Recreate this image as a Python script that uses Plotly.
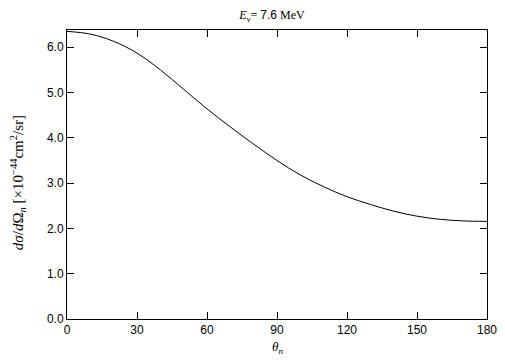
import plotly.graph_objects as go

theta = [0, 10, 20, 30, 40, 50, 60, 70, 80, 90, 100, 110, 120, 130, 140, 150, 160, 170, 180]
dsigma = [6.35, 6.29, 6.13, 5.87, 5.50, 5.07, 4.64, 4.24, 3.86, 3.50, 3.18, 2.92, 2.70, 2.53, 2.38, 2.27, 2.20, 2.165, 2.155]
x_ticks = [0, 30, 60, 90, 120, 150, 180]
y_ticks = [0, 1, 2, 3, 4, 5, 6]

fig = go.Figure()
fig.add_trace(go.Scatter(x=theta, y=dsigma, mode="lines", line=dict(color="black", width=1, shape="spline"),
                         showlegend=False, hoverinfo="skip"))

serif = "Liberation Serif, Times New Roman, serif"
sans = "Liberation Sans, Arial, Helvetica, sans-serif"

# page body has an 8px default margin; figure sized to fit the 505x361 window
W, H = 497, 353
L, R, T, B = 59, 18, 22, 42
PW, PH = W - L - R, H - T - B

fig.update_layout(
    width=W, height=H,
    margin=dict(l=L, r=R, t=T, b=B, autoexpand=False),
    paper_bgcolor="white", plot_bgcolor="white",
    font=dict(family=sans, size=12, color="black"),
    title=dict(text="<i>E</i><sub>ν</sub>= <span style=\"font-family:Liberation Sans\">7.6</span> MeV",
               x=264 / W, xanchor="center", y=1 - 7 / H, yanchor="middle",
               font=dict(family=serif, size=12, color="black")),
    xaxis=dict(range=[0, 180], tickvals=x_ticks, ticktext=[str(v) for v in x_ticks],
               ticks="inside", ticklen=7, tickcolor="black", mirror="ticks", showline=True,
               linecolor="black", linewidth=1, showgrid=False, zeroline=False, automargin=False,
               tickfont=dict(family=sans, size=12)),
    yaxis=dict(range=[0, 6.38], tickvals=y_ticks, ticktext=[f"{v:.1f}" for v in y_ticks],
               ticks="inside", ticklen=7, tickcolor="black", mirror="ticks", showline=True,
               linecolor="black", linewidth=1, showgrid=False, zeroline=False, automargin=False,
               tickfont=dict(family=sans, size=12)),
    annotations=[
        dict(text="<i>θ<sub>n</sub></i>", xref="paper", yref="paper", x=0.5, y=-28 / PH,
             xanchor="center", yanchor="middle", showarrow=False, font=dict(family=serif, size=13)),
        dict(text="<i>dσ</i>/<i>d</i>Ω<sub><i>n</i></sub> [×10<sup>−44</sup>cm<sup>2</sup>/sr]",
             xref="paper", yref="paper", x=(10 - L) / PW, y=0.47, textangle=-90,
             xanchor="center", yanchor="middle", showarrow=False, font=dict(family=serif, size=15)),
    ],
)

fig.write_html("out.html")
